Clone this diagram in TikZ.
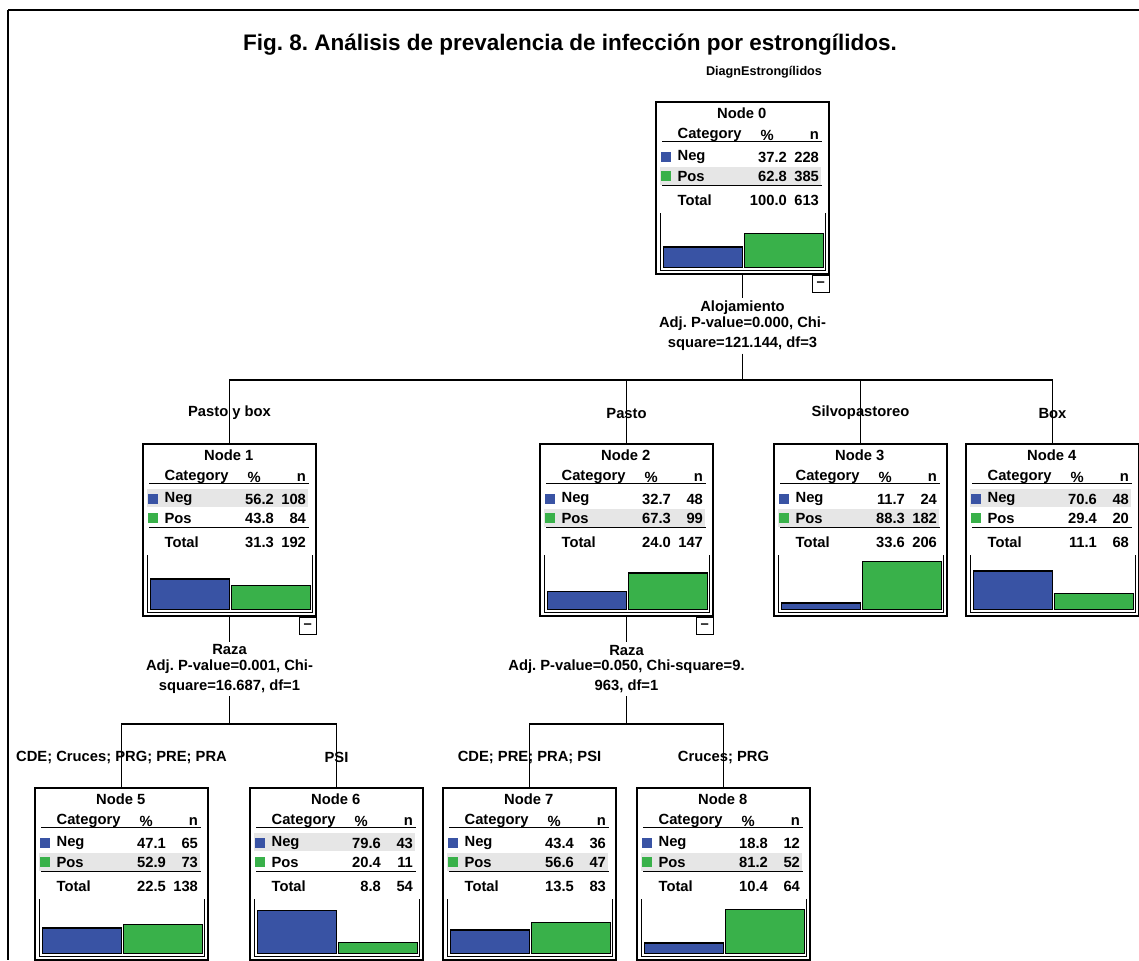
\documentclass[tikz,border=0pt]{standalone}
\usepackage{fontspec}
\setmainfont{Liberation Sans}
\usetikzlibrary{positioning}
\definecolor{negblue}{HTML}{3953A4}
\definecolor{posgreen}{HTML}{39B14A}
\definecolor{bandgray}{HTML}{E6E6E6}
\frenchspacing
\begin{document}
\begin{tikzpicture}[x=0.02cm, y=-0.02cm,
  treebox/.style={draw, line width=0.85pt, minimum width=3.46cm, minimum height=3.44cm, inner sep=0pt},
  txt/.style={font=\fontsize{8.4}{9}\selectfont\bfseries, inner sep=0pt},
  split/.style={font=\fontsize{8.4}{9}\selectfont\bfseries, align=center, inner sep=1.5pt},
  elabel/.style={font=\fontsize{8.4}{9}\selectfont\bfseries, inner sep=0pt},
  rule/.style={line width=0.8pt},
  bar/.style={draw, line width=0.8pt},
  conn/.style={line width=0.8pt},
  collapse/.style={draw, line width=0.7pt, anchor=north east, minimum size=0.34cm, inner sep=0pt, font=\fontsize{8.4}{9}\selectfont\bfseries}]
	\useasboundingbox (0,0) rectangle (1139,960);
	\draw[line width=1.1pt] (8,10) -- (1139,10);
	\draw[line width=1.1pt] (8,10) -- (8,960);

	\node[font=\fontsize{12.8}{14}\selectfont\bfseries, inner sep=0pt] (title) at (570,45) {Fig. 8. Análisis de prevalencia de infección por estrongílidos.};
	\node[font=\fontsize{7.2}{8}\selectfont\bfseries, inner sep=0pt] (var) at (764,72) {DiagnEstrongílidos};

	\foreach \nm/\lx/\ty/\k/\np/\nn/\pp/\pn/\tp/\tn/\hl in {
	  n0/656/102/0/37.2/228/62.8/385/100.0/613/2,
	  n1/143/444/1/56.2/108/43.8/84/31.3/192/1,
	  n2/540/444/2/32.7/48/67.3/99/24.0/147/2,
	  n3/774/444/3/11.7/24/88.3/182/33.6/206/2,
	  n4/966/444/4/70.6/48/29.4/20/11.1/68/1,
	  n5/35/788/5/47.1/65/52.9/73/22.5/138/2,
	  n6/250/788/6/79.6/43/20.4/11/8.8/54/1,
	  n7/443/788/7/43.4/36/56.6/47/13.5/83/2,
	  n8/637/788/8/18.8/12/81.2/52/10.4/64/2}
	{
	  \node[treebox] (\nm) at (\lx+86.5,\ty+86) {};
	  \begin{scope}[shift={(\nm.north west)}]
	    \fill[bandgray] (5,{35+20*\hl-9.5}) rectangle (166,{35+20*\hl+9});
	    \node[txt] (\nm-t) at (86.5,12) {Node \k};
	    \node[txt, anchor=west] (\nm-hc) at (22,34) {Category};
	    \node[txt] (\nm-hp) at (112,34) {\%};
	    \node[txt, anchor=east] (\nm-hn) at (164,34) {n};
	    \draw[rule] (7,40) -- (167,40);
	    \fill[negblue] (6,51) rectangle (16,61);
	    \node[txt, anchor=west] (\nm-neg) at (22,56) {Neg};
	    \node[txt, anchor=east] (\nm-negp) at (132,56) {\np};
	    \node[txt, anchor=east] (\nm-negn) at (164,56) {\nn};
	    \fill[posgreen] (6,70) rectangle (16,80);
	    \node[txt, anchor=west] (\nm-pos) at (22,75) {Pos};
	    \node[txt, anchor=east] (\nm-posp) at (132,75) {\pp};
	    \node[txt, anchor=east] (\nm-posn) at (164,75) {\pn};
	    \draw[rule] (7,84) -- (167,84);
	    \node[txt, anchor=west] (\nm-tot) at (22,99) {Total};
	    \node[txt, anchor=east] (\nm-totp) at (132,99) {\tp};
	    \node[txt, anchor=east] (\nm-totn) at (164,99) {\tn};
	    \draw[line width=0.6pt] (5,112) -- (5,169) -- (170,169) -- (170,112);
	    \filldraw[bar, fill=negblue] (8,166) rectangle (87,{166-0.54*\np});
	    \filldraw[bar, fill=posgreen] (89,166) rectangle (168,{166-0.54*\pp});
	  \end{scope}
	}
	\foreach \nm in {n0,n1,n2}
	  \node[collapse] (\nm-c) at (\nm.south east) {--};

	\node[split] (s0) at (742.5,326) {Alojamiento\\Adj. P-value=0.000, Chi-\\[2.3pt]square=121.144, df=3};
	\node[split] (s1) at (229.5,669) {Raza\\Adj. P-value=0.001, Chi-\\[2.3pt]square=16.687, df=1};
	\node[split] (s2) at (626.5,669) {Raza\\Adj. P-value=0.050, Chi-square=9.\\[2.3pt]963, df=1};
	\coordinate (j0) at (742.5,380);
	\coordinate (j1) at (229.5,724);
	\coordinate (j2) at (626.5,724);

	\draw[conn] (n0) -- (s0);
	\draw[conn] (s0) -- (j0);
	\draw[conn] (n1) |- (j0) -| (n4);
	\draw[conn] (n2) -- (n2 |- j0);
	\draw[conn] (n3) -- (n3 |- j0);
	\draw[conn] (n1) -- (s1);
	\draw[conn] (s1) -- (j1);
	\draw[conn] (n5) |- (j1) -| (n6);
	\draw[conn] (n2) -- (s2);
	\draw[conn] (s2) -- (j2);
	\draw[conn] (n7) |- (j2) -| (n8);

	\node[elabel] (e1) at (229.5,413) {Pasto y box};
	\node[elabel] (e2) at (626.5,413) {Pasto};
	\node[elabel] (e3) at (860.5,413) {Silvopastoreo};
	\node[elabel] (e4) at (1052.5,413) {Box};
	\node[elabel] (e5) at (121.5,757) {CDE; Cruces; PRG; PRE; PRA};
	\node[elabel] (e6) at (336.5,757) {PSI};
	\node[elabel] (e7) at (529.5,757) {CDE; PRE; PRA; PSI};
	\node[elabel] (e8) at (723.5,757) {Cruces; PRG};
\end{tikzpicture}
\end{document}
